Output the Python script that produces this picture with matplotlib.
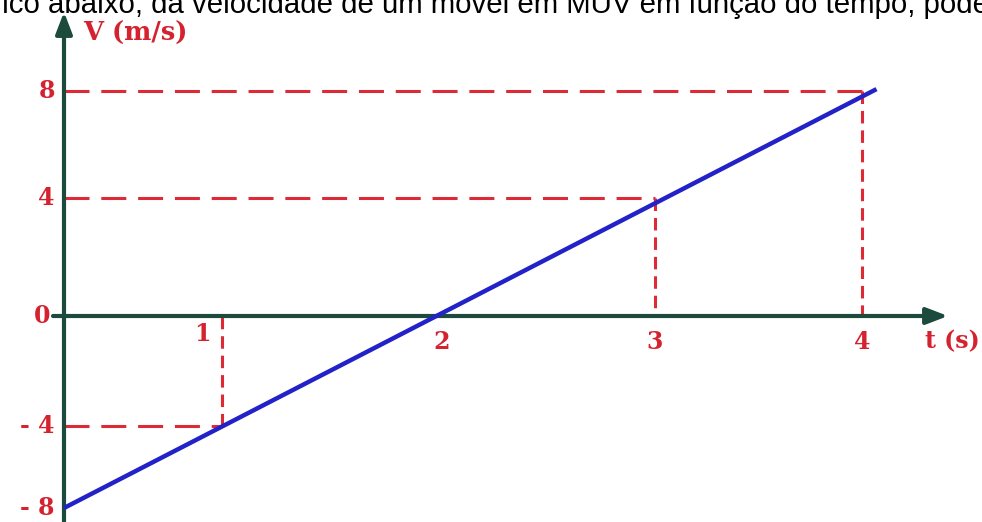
import numpy as np
import matplotlib
matplotlib.use("Agg")
import matplotlib.pyplot as plt

plt.rcParams['lines.scale_dashes'] = False

# data
t_ticks = [1, 2, 3, 4]
v_ticks = [8, 4, 0, -4, -8]
v_tick_labels = ['8', '4', '0', '- 4', '- 8']
t_guides = [1, 3, 4]
v_guides = [-4, 4, 8]
t_line = [0, 4.07]
v_line = [-8, 8.07]

caption = "fico abaixo, da velocidade de um móvel em MUV em função do tempo, pode"

# the drawing is not evenly spaced, so map tick values onto where they sit
T_KNOTS = [0, 1, 2, 3, 4]
X_PIX = [64, 222, 433, 655, 862]
V_KNOTS = [-8, -4, 0, 4, 8]
Y_PIX = [14, 96, 206, 324, 431]   # from the bottom edge

W, H = 982, 522
RED = '#dc2a36'
LBL = '#d4232f'
BLUE = '#2222c8'
AXC = '#1c4a3c'


def piecewise(src, dst):
    src = np.asarray(src, float)
    dst = np.asarray(dst, float)
    k0 = (dst[1] - dst[0]) / (src[1] - src[0])
    k1 = (dst[-1] - dst[-2]) / (src[-1] - src[-2])

    def f(v):
        v = np.asarray(v, float)
        out = np.interp(v, src, dst)
        out = np.where(v < src[0], dst[0] + (v - src[0]) * k0, out)
        out = np.where(v > src[-1], dst[-1] + (v - src[-1]) * k1, out)
        return out
    return f


fx, ix = piecewise(T_KNOTS, X_PIX), piecewise(X_PIX, T_KNOTS)
fy, iy = piecewise(V_KNOTS, Y_PIX), piecewise(Y_PIX, V_KNOTS)

fig = plt.figure(figsize=(W / 100, H / 100), dpi=100)
ax = fig.add_axes([0, 0, 1, 1])
ax.set_xscale('function', functions=(fx, ix))
ax.set_yscale('function', functions=(fy, iy))
ax.set_xlim(float(ix(0)), float(ix(W)))
ax.set_ylim(float(iy(0)), float(iy(H)))
ax.axis('off')

# dashed guides
for t, v in zip(t_guides, v_guides):
    ax.plot([0, t], [v, v], color=RED, lw=2.2, dashes=(18, 8.5), zorder=2)
    ax.plot([t, t], [v, 0], color=RED, lw=2.2, dashes=(9, 5), zorder=2)

# velocity line
ax.plot(t_line, v_line, color=BLUE, lw=3.2, solid_capstyle='butt', zorder=4)

# axes with arrows
arrow = dict(arrowstyle='-|>,head_length=1.3,head_width=0.5', lw=3,
             color=AXC, shrinkA=0, shrinkB=0)
ax.annotate('', xy=(0, 1 - 12 / H), xytext=(0, 0),
            xycoords=('data', 'axes fraction'), arrowprops=arrow, zorder=3)
ax.annotate('', xy=(948 / W, 0), xytext=(53 / W, 0),
            xycoords=('axes fraction', 'data'), arrowprops=arrow, zorder=3)

lab = dict(color=LBL, fontsize=17, family='DejaVu Serif', fontweight='bold')

for v, s in zip(v_ticks, v_tick_labels):
    dx = -14 if v == 0 else -9
    ax.annotate(s, xy=(0, v), xytext=(dx, 0), textcoords='offset pixels',
                ha='right', va='center', **lab)

for t in t_ticks:
    dx, dy = (-20, -6) if t == 1 else ((9, -14) if t == 2 else (0, -14))
    ax.annotate(str(t), xy=(t, 0), xytext=(dx, dy), textcoords='offset pixels',
                ha='center', va='top', **lab)

ax.annotate('V (m/s)', xy=(0, 1 - 33 / H), xycoords=('data', 'axes fraction'),
            xytext=(19, 0), textcoords='offset pixels', ha='left', va='center',
            color=LBL, fontsize=18.5, family='DejaVu Serif', fontweight='bold')
ax.annotate('t (s)', xy=(925 / W, 0), xycoords=('axes fraction', 'data'),
            xytext=(0, -13), textcoords='offset pixels', ha='left', va='top', **lab)

fig.text(-6 / W, 1 - 13 / H, caption, fontsize=21.2, family='Liberation Sans',
         color='black', ha='left', va='baseline')

fig.savefig('out.png', dpi=100)
